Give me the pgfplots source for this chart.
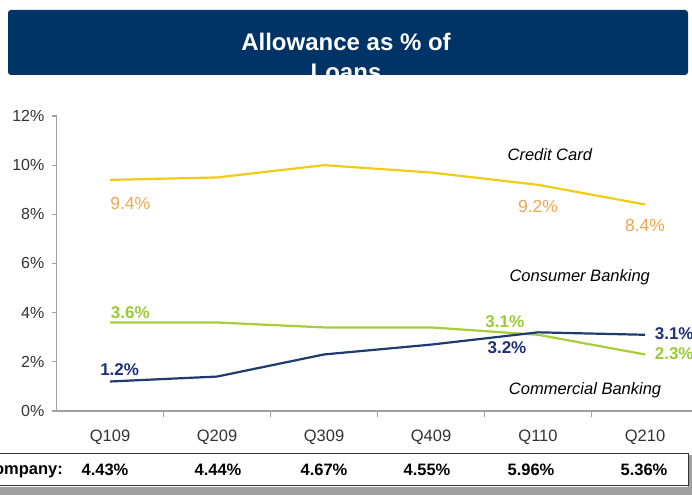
\documentclass[border=0pt]{standalone}
\usepackage{fontspec}
\setmainfont{Liberation Sans}
\usepackage{pgfplots}
\pgfplotsset{compat=1.18}

\definecolor{banner}{RGB}{0,51,102}
\definecolor{cardline}{RGB}{242,204,20}
\definecolor{cardlab}{RGB}{240,168,80}
\definecolor{consline}{RGB}{166,206,57}
\definecolor{conslab}{RGB}{153,204,51}
\definecolor{commline}{RGB}{31,58,110}
\definecolor{commlab}{RGB}{31,48,120}
\definecolor{axisgray}{RGB}{160,160,160}
\definecolor{ticktext}{RGB}{50,50,50}

\begin{document}
\begin{tikzpicture}[x=1bp,y=1bp]
\useasboundingbox (0,0) rectangle (692,495);
\clip (0,0) rectangle (692,495);
\fill[white] (0,0) rectangle (692,495);

% title banner
\fill[banner,rounded corners=3bp] (8,420) rectangle (688,485);
\begin{scope}
  \clip (8,420) rectangle (688,485);
  \node[white,font=\fontsize{24bp}{28bp}\selectfont\bfseries] at (346,453) {Allowance as \% of};
  \node[white,font=\fontsize{24bp}{28bp}\selectfont\bfseries] at (346,423) {Loans};
\end{scope}

% company table at the bottom
\fill[gray!75] (0,0) rectangle (692,8);
\fill[gray!75] (688,0) rectangle (692,40);
\draw[black!80,line width=1bp,fill=white] (-5,9) rectangle (688,41);
\begin{scope}[font=\fontsize{16.5bp}{19bp}\selectfont\bfseries]
  \node[anchor=east,inner sep=0pt] at (63,25) {Company:};
  \node at (105,25) {4.43\%};
  \node at (218,25) {4.44\%};
  \node at (324,25) {4.67\%};
  \node at (427,25) {4.55\%};
  \node at (531,25) {5.96\%};
  \node at (644,25) {5.36\%};
\end{scope}

\begin{axis}[
    at={(56.5bp,84bp)}, anchor=south west,
    scale only axis, width=642bp, height=295bp,
    xmin=-0.5, xmax=5.5, ymin=0, ymax=12,
    axis x line=bottom, axis y line=left,
    axis line style={axisgray,line width=1.5bp,-},
    xtick={0,1,2,3,4,5},
    xticklabels={Q109,Q209,Q309,Q409,Q110,Q210},
    minor xtick={0.5,1.5,2.5,3.5,4.5,5.5},
    ytick={0,2,4,6,8,10,12},
    yticklabels={0\%,2\%,4\%,6\%,8\%,10\%,12\%},
    tick align=outside,
    major tick length=5bp, minor tick length=6bp,
    major x tick style={draw=none},
    tick style={axisgray,line width=1.2bp},
    xticklabel style={font=\fontsize{16.5bp}{19bp}\selectfont,text=ticktext,inner sep=0pt,anchor=north,yshift=-14bp},
    yticklabel style={font=\fontsize{16bp}{19bp}\selectfont,text=ticktext,inner sep=0pt,anchor=east,xshift=-7bp},
    clip=false,
]
\addplot[cardline,line width=2.2bp] coordinates {(0,9.4)(1,9.5)(2,10.0)(3,9.7)(4,9.2)(5,8.4)};
\addplot[consline,line width=2.2bp] coordinates {(0,3.6)(1,3.6)(2,3.4)(3,3.4)(4,3.1)(5,2.3)};
\addplot[commline,line width=2.2bp] coordinates {(0,1.2)(1,1.4)(2,2.3)(3,2.7)(4,3.2)(5,3.1)};

\begin{scope}[font=\fontsize{17.5bp}{20bp}\selectfont]
  \node[cardlab] at (axis cs:0.19,8.46) {9.4\%};
  \node[cardlab] at (axis cs:4.0,8.30) {9.2\%};
  \node[cardlab] at (axis cs:5.0,7.53) {8.4\%};
  \node[conslab,font=\fontsize{17bp}{20bp}\selectfont\bfseries] at (axis cs:0.19,3.99) {3.6\%};
  \node[conslab,font=\fontsize{17bp}{20bp}\selectfont\bfseries] at (axis cs:3.69,3.62) {3.1\%};
  \node[conslab,font=\fontsize{17bp}{20bp}\selectfont\bfseries,anchor=west,inner sep=0pt] at (axis cs:5.09,2.32) {2.3\%};
  \node[commlab,font=\fontsize{17bp}{20bp}\selectfont\bfseries] at (axis cs:0.09,1.67) {1.2\%};
  \node[commlab,font=\fontsize{17bp}{20bp}\selectfont\bfseries] at (axis cs:3.71,2.56) {3.2\%};
  \node[commlab,font=\fontsize{17bp}{20bp}\selectfont\bfseries,anchor=west,inner sep=0pt] at (axis cs:5.09,3.13) {3.1\%};
  \node[font=\fontsize{16.5bp}{20bp}\selectfont\itshape] at (axis cs:4.11,10.41) {Credit Card};
  \node[font=\fontsize{16.5bp}{20bp}\selectfont\itshape] at (axis cs:4.39,5.45) {Consumer Banking};
  \node[font=\fontsize{16.5bp}{20bp}\selectfont\itshape] at (axis cs:4.44,0.85) {Commercial Banking};
\end{scope}
\end{axis}
\end{tikzpicture}
\end{document}
